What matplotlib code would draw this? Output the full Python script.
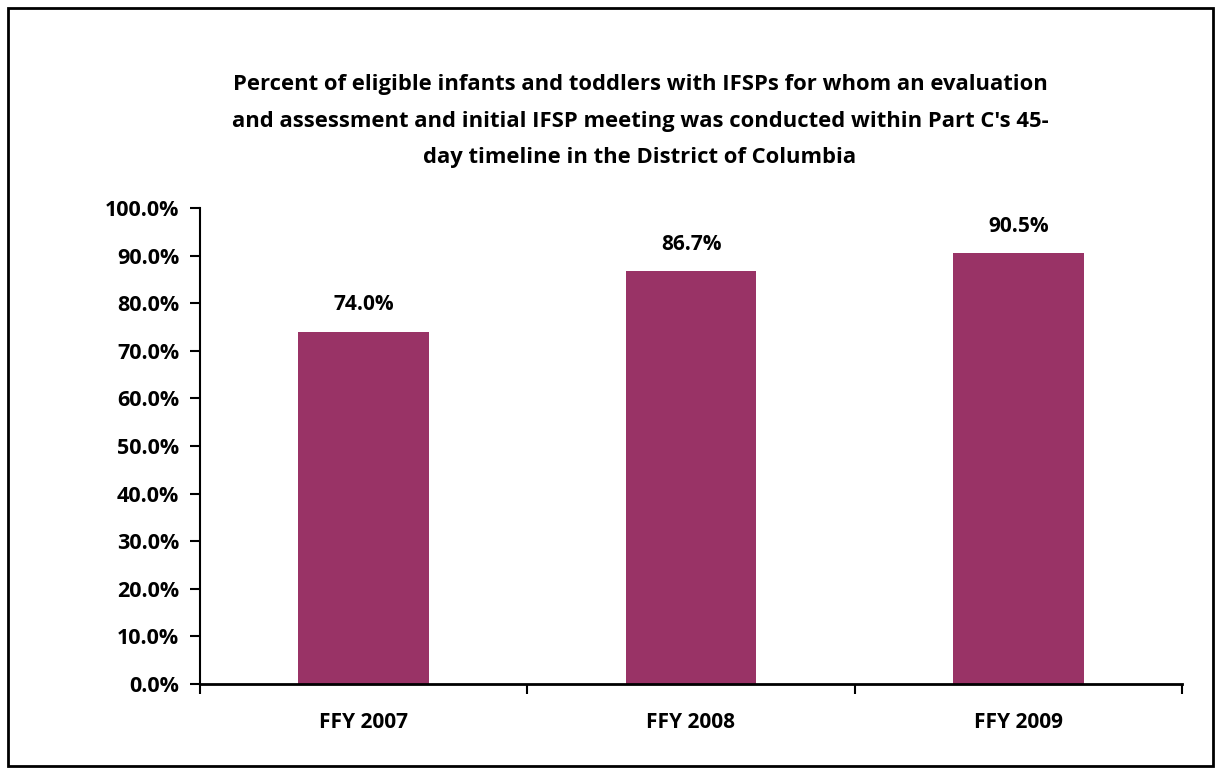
import matplotlib.pyplot as plt
from matplotlib.patches import Rectangle
from matplotlib.ticker import FuncFormatter, MultipleLocator

# Data
categories = ['FFY 2007', 'FFY 2008', 'FFY 2009']
values = [74.0, 86.7, 90.5]
title = ("Percent of eligible infants and toddlers with IFSPs for whom an evaluation\n"
         "and assessment and initial IFSP meeting was conducted within Part C's 45-\n"
         "day timeline in the District of Columbia")

plt.rcParams['font.family'] = ['Open Sans', 'DejaVu Sans']
plt.rcParams['font.weight'] = 'bold'

fig = plt.figure(figsize=(12.25, 7.78), dpi=100)
fig.patches.append(Rectangle((8 / 1225, 12 / 778), 1205 / 1225, 758 / 778,
                             transform=fig.transFigure, fill=False,
                             edgecolor='black', linewidth=2))

ax = fig.add_axes([200 / 1225, 94 / 778, 982 / 1225, 476 / 778])
x = list(range(len(categories)))
ax.bar(x, values, width=0.4, color='#993366')

for xi, v in zip(x, values):
    ax.annotate(f'{v:.1f}%', (xi, v), xytext=(0, 12), textcoords='offset points',
                ha='center', va='bottom', fontsize=15, fontweight='bold')

ax.set_xlim(-0.5, len(categories) - 0.5)
ax.set_ylim(0, 100)
ax.yaxis.set_major_locator(MultipleLocator(10))
ax.yaxis.set_major_formatter(FuncFormatter(lambda v, p: f'{v:.1f}%'))
ax.set_xticks([i - 0.5 for i in range(len(categories) + 1)])
ax.set_xticklabels([])
ax.set_xticks(x, minor=True)
ax.set_xticklabels(categories, minor=True)
ax.tick_params(axis='x', which='minor', length=0, pad=20, labelsize=15)
ax.tick_params(axis='x', which='major', length=7, width=1.5, direction='out')
ax.tick_params(axis='y', length=7, width=1.5, direction='out', labelsize=15.5, pad=8)
for lbl in ax.get_xticklabels(minor=True) + ax.get_yticklabels():
    lbl.set_fontweight('bold')

for s in ['top', 'right']:
    ax.spines[s].set_visible(False)
ax.spines['left'].set_linewidth(1.5)
ax.spines['bottom'].set_linewidth(2)

fig.text(640 / 1225, 1 - 121 / 778, title, ha='center', va='center',
         fontsize=15.8, fontweight='bold', linespacing=1.95)

fig.savefig('out.png', dpi=100)
